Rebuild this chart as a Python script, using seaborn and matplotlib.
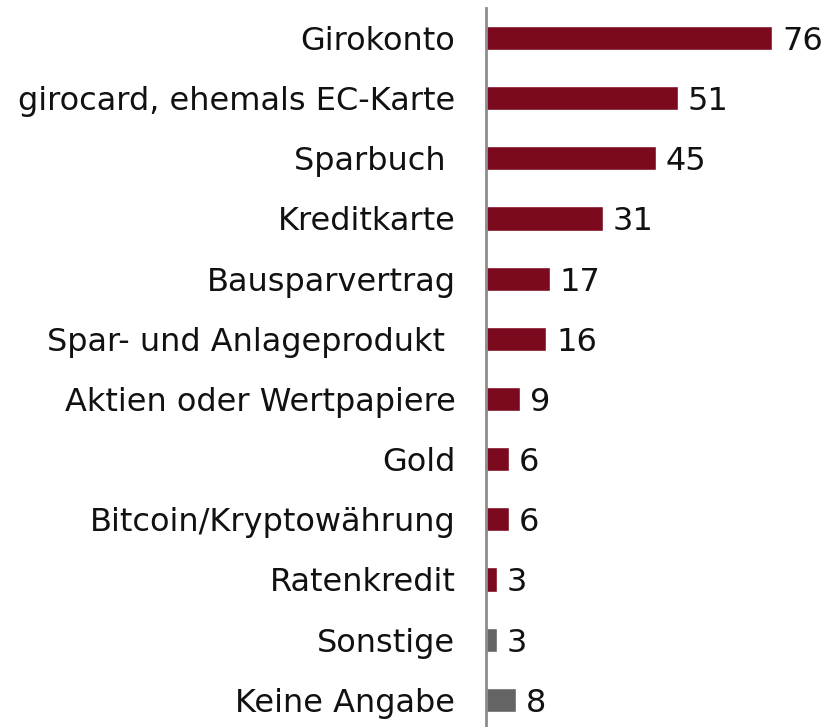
import matplotlib
matplotlib.use("Agg")
import matplotlib.pyplot as plt
import seaborn as sns
import pandas as pd

categories = [
    "Girokonto",
    "girocard, ehemals EC-Karte",
    "Sparbuch ",
    "Kreditkarte",
    "Bausparvertrag",
    "Spar- und Anlageprodukt ",
    "Aktien oder Wertpapiere",
    "Gold",
    "Bitcoin/Kryptowährung",
    "Ratenkredit",
    "Sonstige",
    "Keine Angabe",
]
values = [76, 51, 45, 31, 17, 16, 9, 6, 6, 3, 3, 8]
colors = ["#7B0A1E"] * 10 + ["#646464"] * 2

df = pd.DataFrame({"Kategorie": categories, "Wert": values})

sns.set_theme(style="white")
plt.rcParams["font.family"] = ["DejaVu Sans"]

fig = plt.figure(figsize=(8.27, 7.27), dpi=100)
ax = fig.add_axes([0.5877, -0.004, 0.41, 722 / 727])

sns.barplot(
    data=df, y="Kategorie", x="Wert", hue="Kategorie",
    palette=colors, legend=False, width=0.4, saturation=1,
    ax=ax, orient="h",
)

# value labels, nudged slightly down so the digits sit centred on the bars
for cont in ax.containers:
    for txt in ax.bar_label(cont, fmt="%d", padding=7, fontsize=23, color="#111111"):
        txt.xyann = (7, -2.5)

ax.set_xlim(0, 90)
ax.set_ylim(len(categories) - 0.5, -0.5)
ax.set_xlabel("")
ax.set_ylabel("")
ax.set_xticks([])
ax.tick_params(axis="y", length=0, pad=22, labelsize=23, labelcolor="#111111")

for side in ["top", "right", "bottom"]:
    ax.spines[side].set_visible(False)
ax.spines["left"].set_color("#8C8C8C")
ax.spines["left"].set_linewidth(2)

fig.savefig("out.png", dpi=100)
